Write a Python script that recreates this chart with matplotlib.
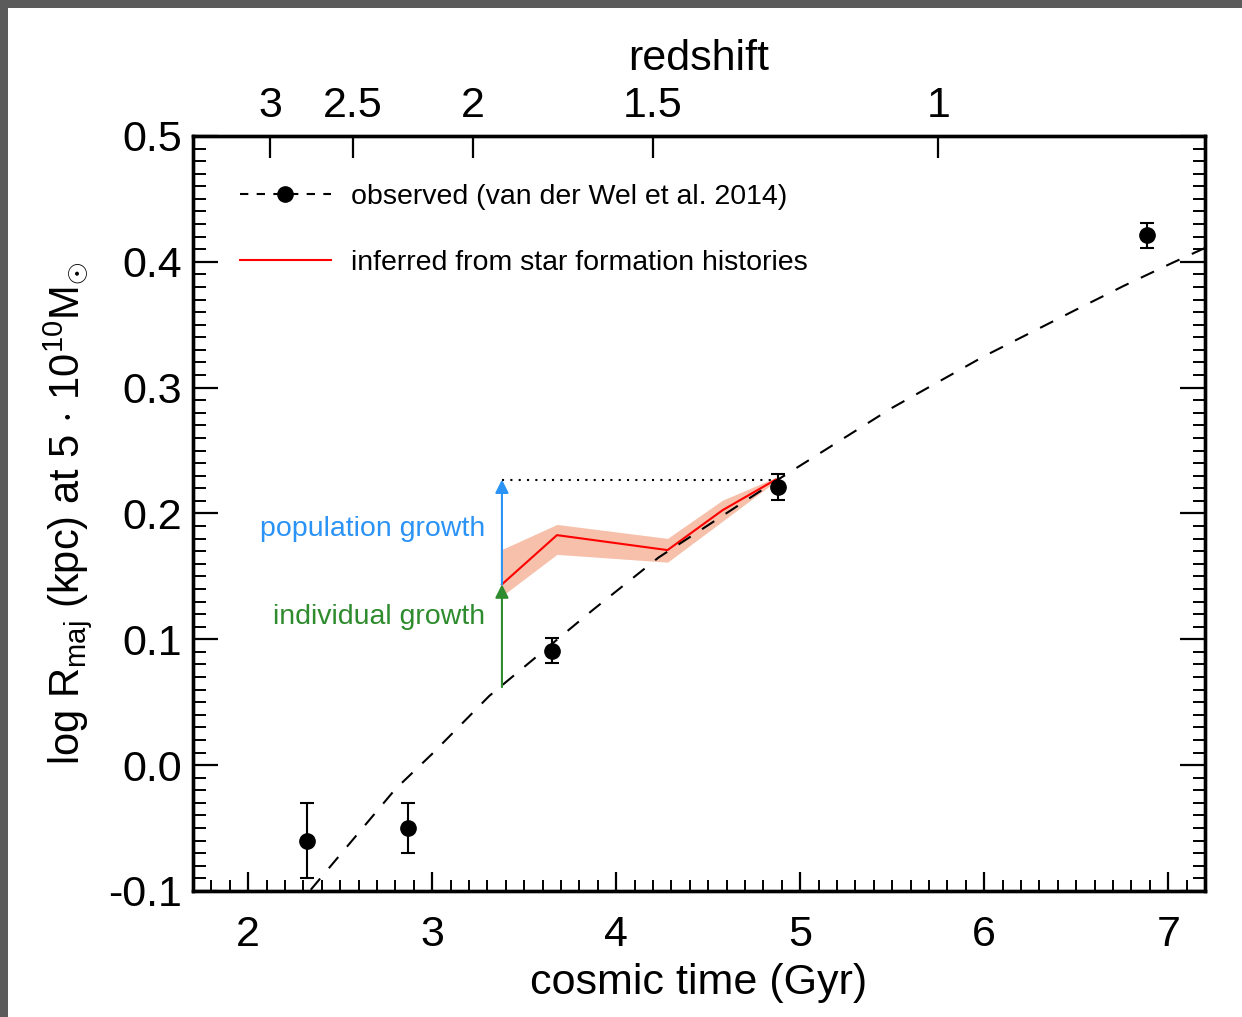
import numpy as np
import matplotlib.pyplot as plt
from matplotlib.lines import Line2D
from matplotlib.patches import Rectangle
from matplotlib.ticker import MultipleLocator, NullLocator

plt.rcParams['font.family'] = ['Liberation Sans', 'DejaVu Sans']
plt.rcParams['mathtext.fontset'] = 'custom'
plt.rcParams['mathtext.rm'] = 'Liberation Sans'
plt.rcParams['mathtext.it'] = 'Liberation Sans:italic'
plt.rcParams['mathtext.bf'] = 'Liberation Sans:bold'

# observed points (van der Wel et al. 2014)
t_obs = [2.32, 2.867, 3.65, 4.877, 6.886]
r_obs = [-0.060, -0.050, 0.091, 0.221, 0.421]
r_err = [0.030, 0.020, 0.010, 0.010, 0.010]

# dashed relation through the observations
t_fit = [2.34, 2.80, 3.00, 3.31, 3.87, 4.23, 4.88, 5.50, 6.00, 6.50, 6.76, 7.02, 7.20]
r_fit = [-0.099, -0.019, 0.009, 0.055, 0.123, 0.165, 0.227, 0.284, 0.325, 0.362, 0.381, 0.399, 0.411]

# inferred from star formation histories
t_sfh = [3.379, 3.678, 4.279, 4.578, 4.868]
r_sfh = [0.1437, 0.1828, 0.1709, 0.2026, 0.2270]
r_sfh_lo = [0.1344, 0.1675, 0.1613, 0.1939, 0.2256]
r_sfh_hi = [0.1714, 0.1913, 0.1802, 0.2106, 0.2286]

# redshift axis
z_labels = ['3', '2.5', '2', '1.5', '1']
t_of_z = [2.12, 2.57, 3.22, 4.20, 5.75]

# growth arrows
t_arrow = 3.379
r_base = 0.062
r_mid = 0.1437
r_top = 0.227

fs = 31
fig = plt.figure(figsize=(12.42, 10.17), dpi=100, facecolor='#5b5b5b')
fig.patches.append(Rectangle((8/1242, 0), 1, 1 - 8/1017, transform=fig.transFigure,
                             facecolor='white', edgecolor='none', zorder=-10))
ax = fig.add_axes([0.1554, 0.1239, 0.8148, 0.7424])

ax.fill_between(t_sfh, r_sfh_lo, r_sfh_hi, color='#f6c0aa', lw=0, zorder=1)
ax.plot(t_sfh, r_sfh, color='red', lw=1.5, zorder=2)
ax.plot(t_fit, r_fit, color='k', lw=1.5, ls=(0, (7, 6.5)), zorder=3)
ax.errorbar(t_obs, r_obs, yerr=r_err, fmt='o', color='k', ms=11, capsize=5,
            elinewidth=1.5, capthick=1.5, zorder=4)
ax.plot([t_arrow, t_sfh[-1]], [r_top, r_top], color='k', lw=1.5, ls=(0, (1, 3)), zorder=3)

ax.annotate('', xy=(t_arrow, r_top), xytext=(t_arrow, r_mid),
            arrowprops=dict(arrowstyle='-|>', color='#2b93f5', lw=1.5,
                            mutation_scale=20, shrinkA=0, shrinkB=0), zorder=5)
ax.annotate('', xy=(t_arrow, r_mid), xytext=(t_arrow, r_base),
            arrowprops=dict(arrowstyle='-|>', color='#2e8b2e', lw=1.5,
                            mutation_scale=20, shrinkA=0, shrinkB=0), zorder=5)
ax.text(3.29, 0.1876, 'population growth', color='#2b93f5', fontsize=20.5,
        ha='right', va='center')
ax.text(3.29, 0.1176, 'individual growth', color='#2e8b2e', fontsize=20.5,
        ha='right', va='center')

ax.set_xlim(1.7, 7.2)
ax.set_ylim(-0.1, 0.5)
ax.xaxis.set_major_locator(MultipleLocator(1))
ax.xaxis.set_minor_locator(MultipleLocator(0.1))
ax.set_yticks([-0.1, 0.0, 0.1, 0.2, 0.3, 0.4, 0.5])
ax.set_yticklabels(['-0.1', '0.0', '0.1', '0.2', '0.3', '0.4', '0.5'])
ax.yaxis.set_minor_locator(MultipleLocator(0.01))
ax.tick_params(axis='x', which='major', direction='in', length=14, width=1.6,
               labelsize=fs, pad=17, top=False)
ax.tick_params(axis='x', which='minor', direction='in', length=8, width=1.4, top=False)
ax.tick_params(axis='y', which='major', direction='in', length=18, width=1.6,
               labelsize=fs, pad=8, right=True)
ax.tick_params(axis='y', which='minor', direction='in', length=9, width=1.4, right=True)
for s in ax.spines.values():
    s.set_linewidth(2.4)

ax.set_xlabel('cosmic time (Gyr)', fontsize=fs, labelpad=6)
ax.set_ylabel(r'log R$_{\mathrm{maj}}$ (kpc) at 5 $\cdot$ 10$^{10}$M$_{\odot}$', fontsize=30)
ax.yaxis.set_label_coords(-0.098, 0.5)

ax2 = ax.twiny()
ax2.set_xlim(ax.get_xlim())
ax2.set_xticks(t_of_z)
ax2.set_xticklabels(z_labels)
ax2.xaxis.set_minor_locator(NullLocator())
ax2.tick_params(axis='x', direction='in', length=16, width=1.6, labelsize=fs, pad=7)
ax2.set_xlabel('redshift', fontsize=fs, labelpad=12)
for s in ax2.spines.values():
    s.set_linewidth(2.4)

h_obs = Line2D([], [], color='k', lw=1.5, ls=(0, (4, 4)), marker='o', ms=11)
h_sfh = Line2D([], [], color='red', lw=1.5)
ax.legend([h_obs, h_sfh], ['observed (van der Wel et al. 2014)',
                           'inferred from star formation histories'],
          loc='upper left', bbox_to_anchor=(0.046, 0.936), frameon=False,
          fontsize=20.5, handlelength=3.2, handletextpad=0.7, labelspacing=1.4,
          borderpad=0, borderaxespad=0, numpoints=1)

fig.savefig('out.png', dpi=100)
